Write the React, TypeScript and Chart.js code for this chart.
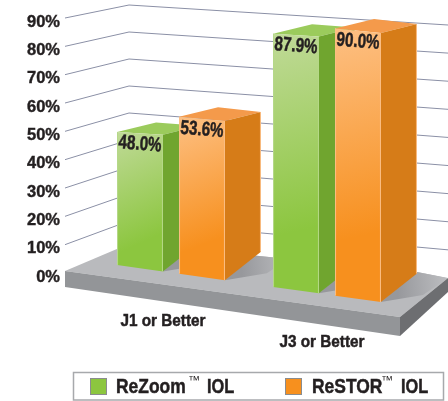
import React, { useEffect, useRef } from "react";
import { Chart, registerables } from "chart.js";

Chart.register(...registerables);

const categories = ["J1 or Better", "J3 or Better"];
const reZoomValues = [48.0, 87.9];
const reStorValues = [53.6, 90.0];
const seriesNames = ["ReZoom", "ReSTOR"];
const seriesSuffix = "IOL";
const yMax = 90;
const yStep = 10;

const FONT = '"Liberation Sans", Arial, sans-serif';
const INK = "#231f20";
const GREEN = { solid: "#8cc63f", light: "#c0da98", top: "#9bcb5c", side: "#70a52f", edge: "#b6d98a" };
const ORANGE = { solid: "#f7901e", light: "#fdc084", top: "#f49a4b", side: "#d67c18", edge: "#fbbf85" };
const PALETTES = [GREEN, ORANGE];
// perspective gain of each bar's front-left / front-right vertical edge [dataset][category]
const GAINS = [
  [[0.978, 1.006], [1.017, 1.031]],
  [[1.034, 1.048], [1.048, 1.055]],
];
const FLOOR = [[65, 271], [131, 243], [417, 272], [448, 278], [400, 317]];

function poly(ctx: CanvasRenderingContext2D, pts: number[][], fill: any) {
  ctx.beginPath();
  pts.forEach((p, i) => (i ? ctx.lineTo(p[0], p[1]) : ctx.moveTo(p[0], p[1])));
  ctx.closePath();
  ctx.fillStyle = fill;
  ctx.fill();
}

function label(ctx: CanvasRenderingContext2D, text: string, cx: number, cy: number, size: number, squeeze: number, rot = 0, align: CanvasTextAlign = "center", weight = "bold", stroke = 0.5) {
  ctx.save();
  ctx.translate(cx, cy);
  ctx.rotate(rot);
  ctx.scale(squeeze, 1);
  ctx.font = `${weight} ${size}px ${FONT}`;
  ctx.fillStyle = INK;
  ctx.strokeStyle = INK;
  ctx.lineWidth = stroke;
  ctx.textAlign = align;
  ctx.textBaseline = "middle";
  if (stroke > 0) ctx.strokeText(text, 0, 0);
  ctx.fillText(text, 0, 0);
  ctx.restore();
}

const bottom = (x: number) => 265 + (x - 117) * 0.1405;

const scene3d = {
  id: "scene3d",
  beforeDatasetsDraw(chart: any) {
    const ctx: CanvasRenderingContext2D = chart.ctx;
    const yS = chart.scales.y;
    ctx.save();
    // walls: gridlines folded around the back corner
    ctx.strokeStyle = "#8b90a6";
    ctx.lineWidth = 1;
    yS.ticks.forEach((t: any) => {
      if (t.value === 0) return;
      const p = yS.getPixelForValue(t.value) - 22;
      ctx.beginPath();
      ctx.moveTo(65, p + 18);
      ctx.lineTo(129, 5 + p * 0.953);
      ctx.lineTo(448, 25 + p * 0.992);
      ctx.stroke();
    });
    // platform
    poly(ctx, FLOOR, "#b9babd");
    poly(ctx, [[65, 271], [400, 317], [400, 336], [65, 287]], "#939598");
    poly(ctx, [[400, 317], [448, 278], [448, 292], [400, 336]], "#6d6e71");

    const metas = [chart.getDatasetMeta(0), chart.getDatasetMeta(1)];
    // cast shadows, clipped to the platform
    ctx.save();
    ctx.beginPath();
    FLOOR.forEach((p, i) => (i ? ctx.lineTo(p[0], p[1]) : ctx.moveTo(p[0], p[1])));
    ctx.closePath();
    ctx.clip();
    metas.forEach((m: any) => {
      m.data.forEach((el: any) => {
        const x1 = el.x + el.width / 2;
        const b = bottom(x1);
        const g = ctx.createLinearGradient(x1 + 16, b - 16, x1 + 66, b - 20);
        g.addColorStop(0, "#97989c");
        g.addColorStop(1, "#bcbdc0");
        poly(ctx, [[x1, b], [x1 + 36, b - 31], [x1 + 67, b - 24], [x1 + 42, b - 7]], g);
      });
    });
    ctx.restore();
    // bars
    metas.forEach((m: any, d: number) => {
      const c = PALETTES[d];
      m.data.forEach((el: any, i: number) => {
        const x0 = el.x - el.width / 2;
        const x1 = el.x + el.width / 2;
        const h = el.base - el.y;
        const b0 = bottom(x0);
        const b1 = bottom(x1);
        const t0 = b0 - h * GAINS[d][i][0];
        const t1 = b1 - h * GAINS[d][i][1];
        poly(ctx, [[x0, t0], [x0 + 39, t0 - 9.5], [x1 + 36, t1 - 9], [x1, t1]], c.top);
        poly(ctx, [[x1, t1], [x1 + 36, t1 - 9], [x1 + 36, b1 - 28.5], [x1, b1]], c.side);
        const g = ctx.createLinearGradient(x0, t0, x1, t0 + (b0 - t0) * 0.76);
        g.addColorStop(0, c.light);
        g.addColorStop(1, c.solid);
        poly(ctx, [[x0, t0], [x1, t1], [x1, b1], [x0, b0]], g);
        ctx.strokeStyle = c.edge;
        ctx.lineWidth = 1;
        ctx.beginPath();
        ctx.moveTo(x0 + 0.5, t0);
        ctx.lineTo(x0 + 0.5, b0);
        ctx.moveTo(x1 - 0.5, t1);
        ctx.lineTo(x1 - 0.5, b1);
        ctx.moveTo(x1 + 35.5, t1 - 9);
        ctx.lineTo(x1 + 35.5, b1 - 28.5);
        ctx.stroke();
      });
    });
    ctx.restore();
  },
  beforeDatasetDraw() {
    return false; // the bars are drawn in 3D above
  },
  afterDatasetsDraw(chart: any) {
    const ctx: CanvasRenderingContext2D = chart.ctx;
    const xS = chart.scales.x;
    // value labels
    chart.data.datasets.forEach((ds: any, d: number) => {
      const m = chart.getDatasetMeta(d);
      ds.data.forEach((v: number, i: number) => {
        const el = m.data[i];
        const b1 = bottom(el.x);
        const top = b1 - (el.base - el.y) * (GAINS[d][i][0] + GAINS[d][i][1]) / 2;
        label(ctx, v.toFixed(1) + "%", el.x, top + 11, 20, 0.76, 0.08);
      });
    });
    // category labels sit along the platform's front edge
    const off = [[-8, 44.7], [-5, 65.7]];
    categories.forEach((c, i) => {
      label(ctx, c, xS.getPixelForValue(i) + off[i][0], chart.chartArea.bottom + off[i][1], 17, 0.9);
    });
    // legend
    ctx.save();
    ctx.strokeStyle = "#a7a9ac";
    ctx.lineWidth = 1.5;
    ctx.strokeRect(73.5, 372.5, 370, 27.5);
    const lx = [[90, 116, 188, 207], [285, 312, 381, 401]];
    chart.data.datasets.forEach((ds: any, d: number) => {
      ctx.fillStyle = ds.backgroundColor;
      ctx.fillRect(lx[d][0], 378, 16, 17);
      ctx.strokeStyle = "#8a8c8e";
      ctx.lineWidth = 1;
      ctx.strokeRect(lx[d][0] + 0.5, 378.5, 16, 16);
      label(ctx, seriesNames[d], lx[d][1], 387, 21, 0.83, 0, "left");
      label(ctx, "\u2122", lx[d][2], 381, 12, 1, 0, "left", "normal", 0);
      label(ctx, seriesSuffix, lx[d][3], 387, 21, 0.78, 0, "left");
    });
    ctx.restore();
  },
};

export default function App() {
  const ref = useRef<HTMLCanvasElement>(null);
  useEffect(() => {
    document.body.style.margin = "0";
    const chart = new Chart(ref.current as HTMLCanvasElement, {
      type: "bar",
      data: {
        labels: categories,
        datasets: [
          { label: `${seriesNames[0]}\u2122 ${seriesSuffix}`, data: reZoomValues, backgroundColor: GREEN.solid, categoryPercentage: 0.795, barPercentage: 0.74 },
          { label: `${seriesNames[1]}\u2122 ${seriesSuffix}`, data: reStorValues, backgroundColor: ORANGE.solid, categoryPercentage: 0.795, barPercentage: 0.74 },
        ],
      },
      options: {
        responsive: false,
        animation: false,
        layout: { padding: { top: 22, right: 43, bottom: 124, left: 0 } },
        plugins: { legend: { display: false }, title: { display: false }, tooltip: { enabled: false } },
        scales: {
          x: {
            grid: { display: false },
            border: { display: false },
            ticks: { display: false },
            afterFit: (s: any) => { s.height = 0; s.paddingLeft = 0; s.paddingRight = 0; },
          },
          y: {
            min: 0,
            max: yMax,
            grid: { display: false, drawTicks: false },
            border: { display: false },
            ticks: {
              stepSize: yStep,
              padding: 33,
              color: INK,
              textStrokeColor: INK,
              textStrokeWidth: 0.4,
              font: { family: FONT, size: 16.5, weight: "bold" },
              callback: (v: any) => `${v}%`,
            },
            afterFit: (s: any) => { s.width = 93; s.paddingTop = 0; s.paddingBottom = 0; },
          },
        },
      },
      plugins: [scene3d],
    } as any);
    return () => chart.destroy();
  }, []);
  return <canvas ref={ref} width={448} height={401} style={{ display: "block" }} />;
}
